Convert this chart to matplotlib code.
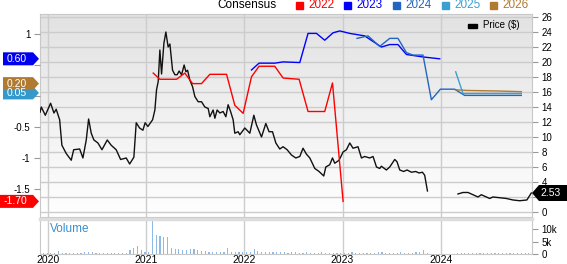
import matplotlib
matplotlib.use('Agg')
import matplotlib.pyplot as plt
import numpy as np
import pandas as pd
from matplotlib.patches import Polygon, Rectangle
from matplotlib.colors import LinearSegmentedColormap

plt.rcParams['font.family'] = ['Liberation Sans', 'DejaVu Sans']

# price ($), x in decimal years
price_t_a = [2019.919, 2019.932, 2019.973, 2020.027, 2020.061, 2020.084, 2020.119, 2020.142, 2020.186, 2020.237,
             2020.262, 2020.323, 2020.356, 2020.390, 2020.414, 2020.441, 2020.468, 2020.509, 2020.550, 2020.604,
             2020.644, 2020.695, 2020.740, 2020.797, 2020.832, 2020.875, 2020.899, 2020.933, 2020.967, 2020.990,
             2021.018, 2021.066, 2021.089, 2021.106, 2021.123, 2021.140, 2021.157, 2021.181, 2021.201, 2021.224,
             2021.242, 2021.269, 2021.293, 2021.316, 2021.336, 2021.361, 2021.387, 2021.405, 2021.422, 2021.445,
             2021.473, 2021.496, 2021.530, 2021.564, 2021.598, 2021.632, 2021.649, 2021.682, 2021.700, 2021.723,
             2021.751, 2021.784, 2021.812, 2021.835, 2021.860, 2021.886, 2021.903, 2021.937, 2021.954, 2022.005,
             2022.056, 2022.097, 2022.124, 2022.175, 2022.219, 2022.252, 2022.287, 2022.321, 2022.361, 2022.395,
             2022.436, 2022.480, 2022.524, 2022.565, 2022.598, 2022.633, 2022.667, 2022.718, 2022.761, 2022.809,
             2022.830, 2022.870, 2022.898, 2022.921, 2022.965, 2023.006, 2023.040, 2023.074, 2023.107, 2023.158,
             2023.193, 2023.226, 2023.277, 2023.311, 2023.346, 2023.379, 2023.396, 2023.447, 2023.481, 2023.532,
             2023.555, 2023.583, 2023.623, 2023.657, 2023.702, 2023.746, 2023.779, 2023.814, 2023.837, 2023.865]
price_v_a = [13.3, 14.0, 12.9, 14.5, 13.2, 13.7, 12.3, 8.9, 7.8, 6.9,
             8.3, 8.4, 7.2, 9.6, 12.4, 10.5, 9.6, 9.2, 8.3, 9.6,
             8.9, 8.3, 7.0, 7.2, 6.4, 7.3, 11.9, 11.2, 10.9, 11.9,
             11.4, 12.3, 13.6, 16.3, 17.4, 21.6, 18.4, 22.5, 24.0, 22.0,
             22.4, 18.9, 18.3, 18.3, 18.8, 18.3, 19.6, 18.7, 18.9, 17.6,
             16.7, 15.4, 14.7, 14.7, 14.0, 13.8, 12.7, 13.6, 12.5, 13.6,
             13.2, 13.4, 12.7, 14.3, 13.4, 12.3, 10.5, 10.7, 10.3, 11.2,
             10.5, 12.9, 11.6, 10.0, 11.8, 10.7, 10.7, 9.2, 8.4, 8.7,
             8.3, 7.6, 7.2, 7.4, 8.5, 7.7, 7.2, 5.8, 5.4, 4.8,
             6.0, 6.3, 7.2, 6.5, 6.9, 8.0, 8.3, 9.2, 8.5, 8.7,
             7.2, 7.4, 7.2, 7.4, 6.0, 5.8, 6.1, 5.6, 6.0, 7.0,
             6.7, 5.6, 5.4, 5.6, 5.3, 5.4, 5.2, 5.3, 4.9, 2.8]
price_t_b = [2024.176, 2024.227, 2024.278, 2024.329, 2024.380, 2024.414, 2024.465, 2024.499,
             2024.532, 2024.601, 2024.669, 2024.736, 2024.804, 2024.878, 2024.923]
price_v_b = [2.4, 2.6, 2.6, 2.3, 2.0, 2.3, 2.0, 1.8, 2.0, 1.9, 1.8, 1.6, 1.5, 1.6, 2.53]

# consensus EPS by fiscal year
eps22_t = [2021.072, 2021.140, 2021.310, 2021.394, 2021.473, 2021.564, 2021.649, 2021.819, 2021.903, 2021.988,
           2022.073, 2022.150, 2022.310, 2022.395, 2022.558, 2022.649, 2022.819, 2022.898, 2023.006]
eps22_v = [0.37, 0.27, 0.27, 0.37, 0.20, 0.20, 0.35, 0.35, -0.15, -0.28,
           0.31, 0.48, 0.48, 0.29, 0.27, -0.25, -0.25, 0.21, -1.70]
eps23_t = [2022.073, 2022.150, 2022.310, 2022.395, 2022.565, 2022.649, 2022.735, 2022.819, 2022.904, 2022.972,
           2023.074, 2023.226, 2023.396, 2023.481, 2023.565, 2023.651, 2023.820, 2023.990]
eps23_v = [0.42, 0.53, 0.53, 0.55, 0.54, 1.01, 1.01, 0.90, 1.02, 1.05,
           1.01, 0.97, 0.79, 0.83, 0.83, 0.67, 0.63, 0.60]
eps24_t = [2023.148, 2023.260, 2023.379, 2023.481, 2023.565, 2023.651, 2023.718, 2023.820, 2023.905, 2023.997,
           2024.142, 2024.244, 2024.821]
eps24_v = [0.93, 0.97, 0.80, 0.93, 0.93, 0.70, 0.66, 0.66, -0.06, 0.11,
           0.11, 0.01, 0.01]
eps25_t = [2024.153, 2024.227, 2024.821]
eps25_v = [0.39, 0.04, 0.04]
eps26_t = [2024.160, 2024.262, 2024.601, 2024.821]
eps26_v = [0.10, 0.09, 0.08, 0.07]

# volume (thousands), biweekly buckets
vol_a = [0.4, 0.3, 0.5, 0.4, 0.6, 1.1, 0.5, 0.4, 0.5, 0.4, 0.6, 0.5, 0.8, 0.9, 0.7, 0.5, 0.6, 0.4, 0.5, 0.4,
         0.6, 0.5, 0.5, 0.4, 1.5, 2.5, 3.2, 1.8, 1.0, 0.8, 13.2, 7.6, 7.3, 6.9, 6.9, 2.3, 2.0, 1.9, 1.8, 1.7,
         1.9, 1.9, 1.6, 1.3, 1.1, 1.0, 1.0, 0.9, 1.0, 0.9, 2.5, 1.0, 0.9, 0.9, 0.8, 0.9, 1.0, 2.0, 1.1, 0.9,
         0.8, 0.8, 0.7, 0.8, 0.7, 0.7, 0.6, 0.7, 0.8, 0.6, 0.6, 0.7, 0.6, 0.5, 0.6, 0.7, 0.6, 0.6, 0.5, 0.6,
         0.5, 0.5, 0.6, 0.7, 0.5, 0.5, 0.6, 0.5, 0.5, 0.6, 0.8, 0.7, 0.6, 0.6, 0.5, 0.6, 0.7, 0.6, 0.5, 0.6,
         0.7, 0.8, 1.6, 0.6]
vol_b = [0.3, 0.4, 0.3, 0.3, 0.4, 0.3, 0.3, 0.5, 0.3, 0.3, 0.4, 0.3, 0.3, 0.3, 0.4, 0.3, 0.3, 0.4, 0.3, 0.5]

years = [2020, 2021, 2022, 2023, 2024]
price_ticks = list(range(0, 27, 2))
price_labels = ['' if p == 2 else str(p) for p in price_ticks]   # "2" sits under the last-price tag
eps_ticks = [1, 0.5, 0, -0.5, -1, -1.5]
eps_labels = ['1', '', '', '-0.5', '-1', '-1.5']                   # 0.5 / 0 hidden by the tags
tags_left = [(0.60, '0.60', '#0000ee'), (0.05, '0.05', '#3399cc'), (0.20, '0.20', '#b07a30'), (-1.70, '-1.70', '#ff0000')]
legend_items = [('2022', '#ff0000'), ('2023', '#0000ff'), ('2024', '#2266c0'), ('2025', '#3aa0d0'), ('2026', '#b07a30')]


def to_year(dates):
    return 2020 + (dates - pd.Timestamp('2020-01-01')).days / 365.25


W, H = 567, 264
fig = plt.figure(figsize=(W / 100, H / 100), dpi=100)
x0, x1 = 2019.919, 2024.93

ax = fig.add_axes([40 / W, 1 - 217 / H, 492 / W, 203 / H])
ax_e = ax.twinx()

ax.set_xlim(x0, x1)
ax.set_ylim(-0.67, 26.4)
grad = LinearSegmentedColormap.from_list('g', ['#ffffff', '#e2e2e2'])
ax.imshow(np.linspace(0, 1, 256).reshape(-1, 1), extent=[x0, x1, -0.67, 26.4], aspect='auto',
          cmap=grad, origin='lower', zorder=0)
ax.set_yticks(price_ticks)
ax.set_yticklabels(price_labels)
ax.set_xticks(years)
ax.grid(True, color='#cccccc', lw=1, zorder=1)
ax.yaxis.tick_right()
ax.tick_params(axis='y', labelsize=7, length=4, color='#999999', pad=3)
ax.tick_params(axis='x', length=0, labelbottom=False)
for s in ax.spines.values():
    s.set_color('#c8c8c8')
ax.plot(price_t_a, price_v_a, color='#111111', lw=1.0, zorder=3)
ax.plot(price_t_b, price_v_b, color='#111111', lw=1.0, zorder=3)

ax_e.set_ylim(-1.952, 1.323)
ax_e.yaxis.tick_left()
ax_e.set_yticks(eps_ticks)
ax_e.set_yticklabels(eps_labels)
ax_e.tick_params(axis='y', labelsize=7, length=4, color='#999999', pad=3)
for s in ax_e.spines.values():
    s.set_visible(False)
ax_e.plot(eps22_t, eps22_v, color='#ff0000', lw=1.0)
ax_e.plot(eps23_t, eps23_v, color='#0000ff', lw=1.0)
ax_e.plot(eps24_t, eps24_v, color='#2266c0', lw=1.0)
ax_e.plot(eps26_t, eps26_v, color='#b07a30', lw=1.0)
ax_e.plot(eps25_t, eps25_v, color='#3aa0d0', lw=1.0)

# volume panel
vax = fig.add_axes([40 / W, 1 - 254 / H, 492 / W, 35 / H])
vt_a = to_year(pd.date_range('2019-12-01', periods=len(vol_a), freq='14D'))
vt_b = to_year(pd.date_range('2024-03-03', periods=len(vol_b), freq='14D'))
vax.bar(vt_a, vol_a, width=0.012, color='#8dbbe6', zorder=2)
vax.bar(vt_b, vol_b, width=0.012, color='#8dbbe6', zorder=2)
vax.set_xlim(x0, x1)
vax.set_ylim(0, 14)
vax.set_xticks(years)
vax.set_xticklabels([str(y) for y in years])
vax.grid(axis='x', color='#cccccc', lw=1, zorder=0)
vax.set_yticks([0, 5, 10])
vax.set_yticklabels(['0', '5k', '10k'])
vax.yaxis.tick_right()
vax.tick_params(axis='y', labelsize=7, length=4, color='#999999', pad=3)
vax.tick_params(axis='x', labelsize=7.5, length=0, pad=0.5)
for s in vax.spines.values():
    s.set_color('#c8c8c8')
vax.spines['top'].set_color('#dddddd')
vax.spines['top'].set_linewidth(2.5)
vax.text(0.02, 0.72, 'Volume', transform=vax.transAxes, fontsize=8.5, color='#3a8fd0', va='center')

# top legend
fig.text(217 / W, 1 - 5 / H, 'Consensus', fontsize=8.5, va='center', ha='left')
lx = [296, 344, 393, 442, 490]
for (lab, col), px in zip(legend_items, lx):
    fig.patches.append(Rectangle((px / W, 1 - 8.5 / H), 7 / W, 7 / H, transform=fig.transFigure,
                                 color=col, figure=fig))
    fig.text((px + 12) / W, 1 - 5 / H, lab, fontsize=8.5, va='center', ha='left', color=col)

# price legend
fig.patches.append(Rectangle((468 / W, 1 - 27.5 / H), 9 / W, 4 / H, transform=fig.transFigure,
                             color='#000000', figure=fig))
fig.text(483 / W, 1 - 25.5 / H, 'Price ($)', fontsize=7, va='center', ha='left')

# value tags
for val, lab, col in tags_left:
    yc = ax_e.transData.transform((0, val))[1]
    left = 0 if lab.startswith('-') else 3
    pts = [(left, yc - 6.5), (33, yc - 6.5), (39, yc), (33, yc + 6.5), (left, yc + 6.5)]
    fig.patches.append(Polygon([(p[0] / W, p[1] / H) for p in pts], closed=True, transform=fig.transFigure,
                               facecolor=col, edgecolor='none', figure=fig))
    fig.text(27 / W, yc / H, lab, fontsize=7.5, color='white', va='center', ha='right')

yc = ax.transData.transform((0, price_v_b[-1]))[1]
pts = [(532, yc), (539, yc + 8), (567, yc + 8), (567, yc - 8), (539, yc - 8)]
fig.patches.append(Polygon([(p[0] / W, p[1] / H) for p in pts], closed=True, transform=fig.transFigure,
                           facecolor='#000000', edgecolor='none', figure=fig))
fig.text(551 / W, yc / H, '2.53', fontsize=7.5, color='white', va='center', ha='center')

fig.savefig('out.png', dpi=100)
